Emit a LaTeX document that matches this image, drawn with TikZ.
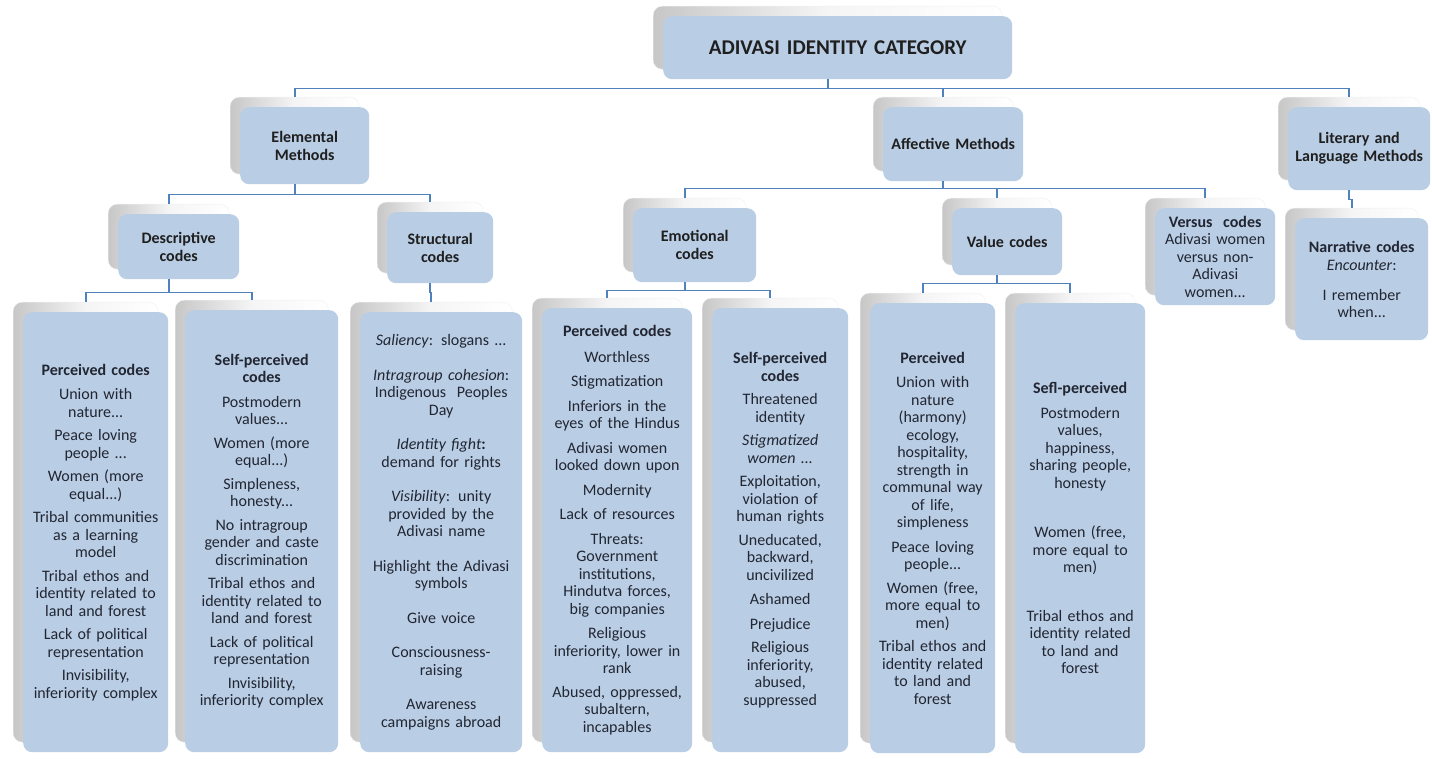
\documentclass[tikz,border=0pt]{standalone}
\usepackage{fontspec}
\setmainfont{Carlito}
\usetikzlibrary{shadows}

\definecolor{cardfill}{RGB}{185,205,229}
\definecolor{linkblue}{RGB}{79,129,189}
\definecolor{inkgray}{RGB}{34,38,50}

\tikzset{
	card/.style={rounded corners=9pt, fill=cardfill, inner sep=0pt, align=center, text=inkgray,
		font=\fontsize{16}{17.5}\selectfont,
		general shadow={shadow xshift=-10pt, shadow yshift=10pt, left color=black!22, right color=white, middle color=white!96!black, draw=black!6}},
	head/.style={card, font=\fontsize{16}{18}\selectfont\bfseries, text=black!88},
	boxsize/.style 2 args={text width=#1, minimum height=#2, anchor=north west},
	link/.style={draw=linkblue, line width=1.6pt}
}

\begin{document}
\begin{tikzpicture}[x=1pt, y=-1pt]
			%%%%% START %%%%%
			\useasboundingbox (0,0) rectangle (1432,759);
			
			\node[head, boxsize={349}{63}, font=\fontsize{21}{23}\selectfont\bfseries] (root) at (663,16) {ADIVASI IDENTITY CATEGORY};
			
			\node[head, boxsize={129}{77}] (elem) at (240,107) {Elemental\\Methods};
			\node[head, boxsize={140}{74}] (aff) at (883,107) {Affective Methods};
			\node[head, boxsize={142}{83}] (lit) at (1288,107) {Literary and\\Language Methods};
			
			\node[head, boxsize={121}{65}] (desc) at (118,214) {Descriptive\\codes};
			\node[head, boxsize={106}{71}] (struct) at (387,212) {Structural\\codes};
			\node[head, boxsize={123}{74}] (emo) at (633,208) {Emotional\\codes};
			\node[head, boxsize={110}{67}] (val) at (952,208) {Value codes};
			
			\node[card, boxsize={120}{97}] (vers) at (1155,208) {\textbf{Versus\ \ codes}\\Adivasi women\\versus non-\\Adivasi\\women...};
			\node[card, boxsize={133}{122}] (narr) at (1295,218) {\textbf{Narrative codes}\\[1pt]\textit{Encounter}:\\[12pt]I remember\\when...};
			
			%%%%% COLUMNS %%%%%
			
			\node[card, boxsize={145}{440}] (descper) at (23,312) {\textbf{Perceived codes}\\[7pt]
				Union with\\nature...\\[6pt]Peace loving\\people ...\\[6pt]Women (more\\equal...)\\[6pt]
				Tribal communities\\as a learning\\model\\[6pt]Tribal ethos and\\identity related to\\land and forest\\[6pt]
				Lack of political\\representation\\[6pt]Invisibility,\\inferiority complex};
			
			\node[card, boxsize={153}{442}] (descself) at (185,310) {\textbf{Self-perceived}\\\textbf{codes}\\[7pt]
				Postmodern\\values...\\[6pt]Women (more\\equal...)\\[6pt]Simpleness,\\honesty...\\[6pt]
				No intragroup\\gender and caste\\discrimination\\[6pt]Tribal ethos and\\identity related to\\land and forest\\[6pt]
				Lack of political\\representation\\[6pt]Invisibility,\\inferiority complex};
			
			\node[card, boxsize={162}{440}] (structcol) at (360,312) {\textit{Saliency}: slogans ...\\[17pt]
				\textit{Intragroup cohesion}:\\Indigenous\ \ Peoples\\Day\\[17pt]
				\textit{Identity fight}\textbf{:}\\demand for rights\\[17pt]
				\textit{Visibility}: unity\\provided by the\\Adivasi name\\[17pt]
				Highlight the Adivasi\\symbols\\[17pt]Give voice\\[17pt]Consciousness-\\raising\\[17pt]
				Awareness\\campaigns abroad};
			
			\node[card, boxsize={150}{444}] (emoper) at (542,308) {\textbf{Perceived codes}\\[8pt]
				Worthless\\[7pt]Stigmatization\\[7pt]Inferiors in the\\eyes of the Hindus\\[7pt]
				Adivasi women\\looked down upon\\[7pt]Modernity\\[7pt]Lack of resources\\[7pt]
				Threats:\\Government\\institutions,\\Hindutva forces,\\big companies\\[7pt]
				Religious\\inferiority, lower in\\rank\\[6pt]Abused, oppressed,\\subaltern,\\incapables};
			
			\node[card, boxsize={136}{444}] (emoself) at (712,308) {\textbf{Self-perceived}\\\textbf{codes}\\[6pt]
				Threatened\\identity\\[6pt]\textit{Stigmatized}\\\textit{women ...}\\[6pt]
				Exploitation,\\violation of\\human rights\\[6pt]Uneducated,\\backward,\\uncivilized\\[7pt]
				Ashamed\\[7pt]Prejudice\\[6pt]Religious\\inferiority,\\abused,\\suppressed};
			
			\node[card, boxsize={125}{450}] (valper) at (870,303) {\textbf{Perceived}\\[7pt]
				Union with\\nature\\(harmony)\\ecology,\\hospitality,\\strength in\\communal way\\of life,\\simpleness\\[7pt]
				Peace loving\\people...\\[6pt]Women (free,\\more equal to\\men)\\[6pt]
				Tribal ethos and\\identity related\\to land and\\forest};
			
			\node[card, boxsize={130}{450}] (valself) at (1015,303) {\textbf{Sefl-perceived}\\[7pt]
				Postmodern\\values,\\happiness,\\sharing people,\\honesty\\[32pt]
				Women (free,\\more equal to\\men)\\[31pt]
				Tribal ethos and\\identity related\\to land and\\forest};
			
			%%%%% LINKS %%%%%
			
			\draw[link] ([xshift=-10pt]root.south) -- ++(0,9) -| ([xshift=-10pt,yshift=10pt]elem.north);
			\draw[link] ([xshift=-10pt]root.south) -- ++(0,9) -| ([xshift=-10pt,yshift=10pt]aff.north);
			\draw[link] ([xshift=-10pt]root.south) -- ++(0,9) -| ([xshift=-10pt,yshift=10pt]lit.north);
			
			\draw[link] ([xshift=-10pt]elem.south) -- ++(0,10) -| ([xshift=-10pt,yshift=10pt]desc.north);
			\draw[link] ([xshift=-10pt]elem.south) -- ++(0,10) -| ([xshift=-10pt,yshift=10pt]struct.north);
			
			\draw[link] ([xshift=-10pt]aff.south) -- ++(0,7) -| ([xshift=-10pt,yshift=10pt]emo.north);
			\draw[link] ([xshift=-10pt]aff.south) -- ++(0,7) -| ([xshift=-10pt,yshift=10pt]val.north);
			\draw[link] ([xshift=-10pt]aff.south) -- ++(0,7) -| ([xshift=-10pt,yshift=10pt]vers.north);
			
			\draw[link] ([xshift=-10pt]lit.south) -- ++(0,9) -| ([xshift=-10pt,yshift=10pt]narr.north);
			
			\draw[link] ([xshift=-10pt]desc.south) -- ++(0,13) -| ([xshift=-10pt,yshift=10pt]descper.north);
			\draw[link] ([xshift=-10pt]desc.south) -- ++(0,13) -| ([xshift=-10pt,yshift=10pt]descself.north);
			
			\draw[link] ([xshift=-10pt]struct.south) -- ++(0,9) -| ([xshift=-10pt,yshift=10pt]structcol.north);
			
			\draw[link] ([xshift=-10pt]emo.south) -- ++(0,8) -| ([xshift=-10pt,yshift=10pt]emoper.north);
			\draw[link] ([xshift=-10pt]emo.south) -- ++(0,8) -| ([xshift=-10pt,yshift=10pt]emoself.north);
			
			\draw[link] ([xshift=-10pt]val.south) -- ++(0,8) -| ([xshift=-10pt,yshift=10pt]valper.north);
			\draw[link] ([xshift=-10pt]val.south) -- ++(0,8) -| ([xshift=-10pt,yshift=10pt]valself.north);
			
			%%%%% END %%%%%
\end{tikzpicture}
\end{document}
